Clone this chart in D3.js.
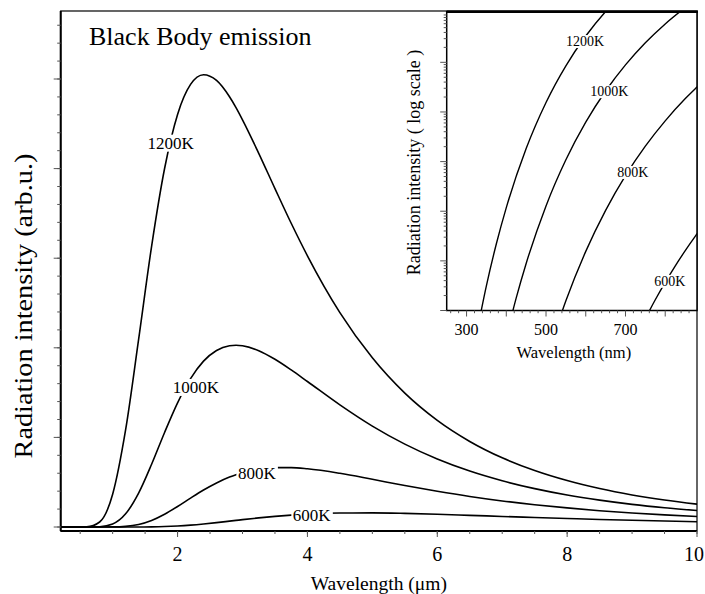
<!DOCTYPE html>
<html>
<head>
<meta charset="utf-8">
<script src="https://cdn.jsdelivr.net/npm/d3@7"></script>
<style>
  body { margin: 0; background: #fff; }
  text { font-family: "Liberation Serif", "Times New Roman", serif; fill: #000; }
</style>
</head>
<body>
<svg id="chart" width="705" height="594"></svg>
<script>
// ---- Main panel: spectral radiance vs wavelength (µm), arbitrary units ----
const wavelengthUm = [0.2, 0.4, 0.6, 0.8, 1.0, 1.2, 1.4, 1.6, 1.8, 2.0, 2.2, 2.4, 2.6, 2.8, 2.9, 3.0,
  3.25, 3.5, 3.75, 4.0, 4.5, 5.0, 5.5, 6.0, 6.5, 7.0, 7.5, 8.0, 8.5, 9.0, 9.5, 10];
const intensity1200K = [0, 0, 0.0016, 0.0558, 0.366, 1.086, 2.094, 3.133, 4.001, 4.605, 4.940, 5.048, 4.984, 4.802, 4.681, 4.545,
  4.171, 3.777, 3.390, 3.027, 2.393, 1.888, 1.494, 1.190, 0.955, 0.772, 0.630, 0.518, 0.429, 0.358, 0.301, 0.255];
const intensity1000K = [0, 0, 0, 0.0028, 0.0333, 0.147, 0.378, 0.700, 1.055, 1.386, 1.656, 1.851, 1.970, 2.023, 2.029, 2.023,
  1.968, 1.872, 1.753, 1.624, 1.363, 1.126, 0.925, 0.759, 0.624, 0.516, 0.428, 0.357, 0.300, 0.253, 0.215, 0.184];
const intensity800K = [0, 0, 0, 0, 0.0009, 0.0074, 0.0289, 0.0739, 0.143, 0.229, 0.323, 0.413, 0.492, 0.558, 0.584, 0.606,
  0.646, 0.663, 0.663, 0.650, 0.599, 0.532, 0.463, 0.399, 0.341, 0.291, 0.249, 0.213, 0.182, 0.157, 0.135, 0.117];
const intensity600K = [0, 0, 0, 0, 0, 0.0001, 0.0004, 0.0017, 0.0051, 0.0115, 0.0211, 0.0339, 0.0490, 0.0654, 0.0737, 0.0820,
  0.1017, 0.1190, 0.1331, 0.1439, 0.1558, 0.1573, 0.1517, 0.1420, 0.1303, 0.1180, 0.1060, 0.0946, 0.0842, 0.0748, 0.0664, 0.0590];
const temperatures = ["1200K", "1000K", "800K", "600K"];
const mainXTickLabels = [2, 4, 6, 8, 10];

// ---- Inset: visible range (nm), log-scaled intensity ----
const insetNm1200K = [325, 350, 375, 400, 450, 500, 550, 600, 650, 700];
const insetVal1200K = [0.3304, 3.177, 22.08, 118.0, 1828, 15520, 85110, 338800, 1057000, 2729000];
const insetNm1000K = [400, 425, 450, 500, 550, 600, 650, 700, 750, 800, 850];
const insetVal1000K = [0.2938, 1.799, 8.872, 128.2, 1089, 6237, 26420, 88720, 247700, 594300, 1265000];
const insetNm800K = [525, 550, 600, 650, 700, 750, 800, 850, 875, 900];
const insetVal800K = [0.4179, 1.574, 15.52, 104.2, 521.2, 2046, 6622, 18370, 29040, 44670];
const insetNm600K = [750, 775, 800, 825, 850, 875, 900];
const insetVal600K = [0.6902, 1.644, 3.690, 7.852, 15.89, 30.76, 57.15];
const insetXTickLabels = [300, 500, 700];

const svg = d3.select("#chart");

// ---------- main panel ----------
const main = { left: 60.7, right: 697, top: 11, bottom: 531 };
const x = d3.scaleLinear().domain([0.2, 10]).range([main.left, main.right]);
const y = d3.scaleLinear().domain([-0.0446, 5.759]).range([main.bottom, main.top]);

svg.append("clipPath").attr("id", "mainClip").append("rect")
  .attr("x", main.left).attr("y", main.top)
  .attr("width", main.right - main.left).attr("height", main.bottom - main.top);

const mainSeries = [intensity1200K, intensity1000K, intensity800K, intensity600K];
const mainLine = d3.line()
  .x(d => x(d[0])).y(d => y(d[1]))
  .curve(d3.curveMonotoneX);

const gMain = svg.append("g").attr("clip-path", "url(#mainClip)");
mainSeries.forEach(vals => {
  gMain.append("path")
    .datum(wavelengthUm.map((w, i) => [w, vals[i]]))
    .attr("d", mainLine)
    .attr("fill", "none").attr("stroke", "#000").attr("stroke-width", 1.6);
});

// curve labels sit on a white patch that interrupts the line
function gappedLabel(parent, px, py, txt, size) {
  const g = parent.append("g");
  const bg = g.append("rect").attr("fill", "#fff");
  const t = g.append("text").attr("x", px).attr("y", py)
    .attr("text-anchor", "middle").attr("dy", "0.35em")
    .style("font-size", size + "px").text(txt);
  const b = t.node().getBBox();
  bg.attr("x", b.x - 1.5).attr("y", b.y + 1).attr("width", b.width + 3).attr("height", b.height - 2);
}

const mainLabelAt = [[1.892, 4.289], [2.282, 1.5625], [3.220, 0.603], [4.066, 0.134]];
temperatures.forEach((t, i) => {
  gappedLabel(svg, x(mainLabelAt[i][0]), y(mainLabelAt[i][1]), t, 17);
});

// frame
svg.append("rect")
  .attr("x", main.left).attr("y", main.top)
  .attr("width", main.right - main.left).attr("height", main.bottom - main.top)
  .attr("fill", "none").attr("stroke", "#000").attr("stroke-width", 1.2);
svg.append("line").attr("x1", main.left).attr("x2", main.right)
  .attr("y1", main.bottom).attr("y2", main.bottom).attr("stroke", "#000").attr("stroke-width", 2);
svg.append("line").attr("x1", main.left).attr("x2", main.left)
  .attr("y1", main.top).attr("y2", main.bottom).attr("stroke", "#000").attr("stroke-width", 2);

// y ticks (unlabelled): majors every unit, minors every 0.2
const tickColor = "#555";
const yMinor = d3.range(0, 5.75, 0.2);
svg.append("g").selectAll("line").data(yMinor).join("line")
  .attr("x1", main.left - 3.5).attr("x2", main.left)
  .attr("y1", d => y(d)).attr("y2", d => y(d))
  .attr("stroke", tickColor).attr("stroke-width", 1);
svg.append("g").selectAll("line").data(d3.range(0, 6, 1)).join("line")
  .attr("x1", main.left - 7).attr("x2", main.left)
  .attr("y1", d => y(d)).attr("y2", d => y(d))
  .attr("stroke", tickColor).attr("stroke-width", 1);

// x ticks: minors every 0.5 µm, labelled majors
svg.append("g").selectAll("line").data(d3.range(0.5, 10.01, 0.5)).join("line")
  .attr("x1", d => x(d)).attr("x2", d => x(d))
  .attr("y1", main.bottom).attr("y2", main.bottom + 3)
  .attr("stroke", tickColor).attr("stroke-width", 1);
svg.append("g").selectAll("line").data(mainXTickLabels).join("line")
  .attr("x1", d => x(d)).attr("x2", d => x(d))
  .attr("y1", main.bottom).attr("y2", main.bottom + 6)
  .attr("stroke", tickColor).attr("stroke-width", 1);
svg.append("g").selectAll("text").data(mainXTickLabels).join("text")
  .attr("x", (d, i) => i === mainXTickLabels.length - 1 ? 704 : x(d))
  .attr("y", 561)
  .attr("text-anchor", (d, i) => i === mainXTickLabels.length - 1 ? "end" : "middle")
  .style("font-size", "20px")
  .text(d => d);

svg.append("text").attr("x", (main.left + main.right) / 2).attr("y", 590)
  .attr("text-anchor", "middle").style("font-size", "19.5px")
  .text("Wavelength (μm)");
svg.append("text")
  .attr("transform", "translate(31.7,306) rotate(-90)")
  .attr("text-anchor", "middle").style("font-size", "26px")
  .attr("textLength", 305).attr("lengthAdjust", "spacingAndGlyphs")
  .text("Radiation intensity (arb.u.)");

svg.append("text").attr("x", 89).attr("y", 45)
  .style("font-size", "26px").text("Black Body emission");

// ---------- inset ----------
const inset = { left: 446.7, right: 697, top: 11.7, bottom: 310.5 };
const xi = d3.scaleLinear().domain([250, 880]).range([inset.left, inset.right]);
const yi = d3.scaleLog().domain([1, Math.pow(10, 6.02)]).range([inset.bottom, inset.top]);

svg.append("rect")
  .attr("x", inset.left).attr("y", inset.top)
  .attr("width", inset.right - inset.left).attr("height", inset.bottom - inset.top)
  .attr("fill", "#fff");

svg.append("clipPath").attr("id", "insetClip").append("rect")
  .attr("x", inset.left).attr("y", inset.top)
  .attr("width", inset.right - inset.left).attr("height", inset.bottom - inset.top);

const insetSeries = [
  [insetNm1200K, insetVal1200K],
  [insetNm1000K, insetVal1000K],
  [insetNm800K, insetVal800K],
  [insetNm600K, insetVal600K]
];
const insetLine = d3.line()
  .x(d => xi(d[0])).y(d => yi(d[1]))
  .curve(d3.curveMonotoneX);
const gInset = svg.append("g").attr("clip-path", "url(#insetClip)");
insetSeries.forEach(([nm, vals]) => {
  gInset.append("path")
    .datum(nm.map((w, i) => [w, vals[i]]))
    .attr("d", insetLine)
    .attr("fill", "none").attr("stroke", "#000").attr("stroke-width", 1.4);
});

const insetLabelAt = [[598.5, 2.67e5], [659, 2.61e4], [718.7, 616], [811.5, 3.94]];
temperatures.forEach((t, i) => {
  gappedLabel(svg, xi(insetLabelAt[i][0]), yi(insetLabelAt[i][1]), t, 14);
});

// inset frame
svg.append("rect")
  .attr("x", inset.left).attr("y", inset.top)
  .attr("width", inset.right - inset.left).attr("height", inset.bottom - inset.top)
  .attr("fill", "none").attr("stroke", "#000").attr("stroke-width", 1.5);
svg.append("line").attr("x1", inset.left).attr("x2", inset.right + 1)
  .attr("y1", inset.top).attr("y2", inset.top).attr("stroke", "#000").attr("stroke-width", 2.5);

// inset y ticks (log)
const logTicks = yi.ticks().filter(v => yi(v) >= inset.top + 1);
svg.append("g").selectAll("line").data(logTicks).join("line")
  .attr("x1", d => {
    const isMajor = Math.abs(Math.log10(d) - Math.round(Math.log10(d))) < 1e-9;
    return inset.left - (isMajor ? 6.5 : 3);
  })
  .attr("x2", inset.left)
  .attr("y1", d => yi(d)).attr("y2", d => yi(d))
  .attr("stroke", tickColor).attr("stroke-width", 1);

// inset x ticks
svg.append("g").selectAll("line").data(d3.range(260, 880, 20)).join("line")
  .attr("x1", d => xi(d)).attr("x2", d => xi(d))
  .attr("y1", inset.bottom).attr("y2", d => inset.bottom + (d % 100 === 0 ? 6 : 2.7))
  .attr("stroke", tickColor).attr("stroke-width", 1);
svg.append("g").selectAll("text").data(insetXTickLabels).join("text")
  .attr("x", d => xi(d)).attr("y", 335)
  .attr("text-anchor", "middle").style("font-size", "16px")
  .text(d => d);

svg.append("text").attr("x", (inset.left + inset.right) / 2 + 2).attr("y", 358.3)
  .attr("text-anchor", "middle").style("font-size", "16.5px")
  .text("Wavelength (nm)");
svg.append("text")
  .attr("transform", "translate(420,162.5) rotate(-90)")
  .attr("text-anchor", "middle").style("font-size", "18px")
  .text("Radiation intensity ( log scale )");
</script>
</body>
</html>
